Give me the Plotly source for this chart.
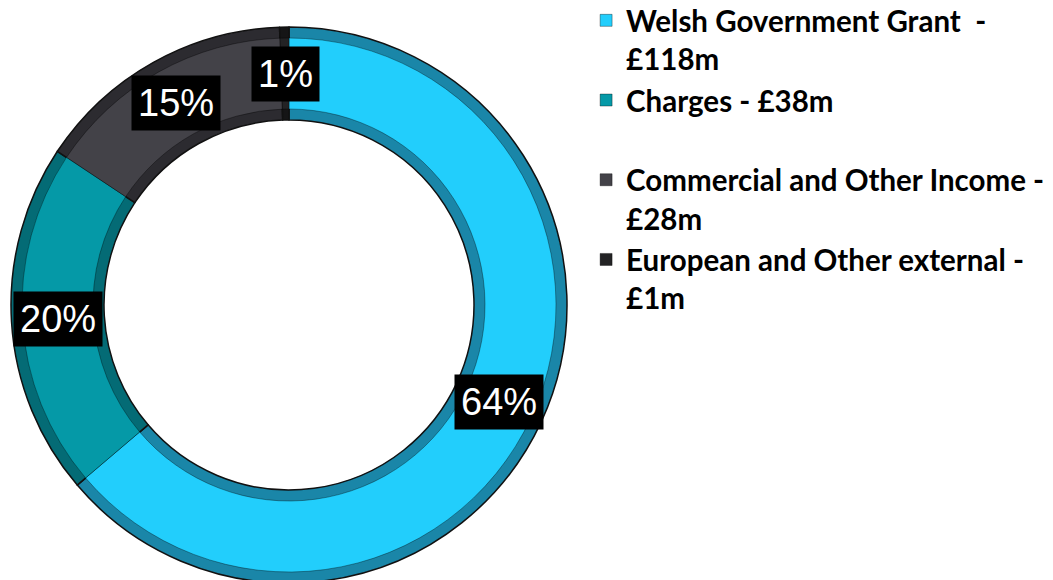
import math
import plotly.graph_objects as go

categories = ["Welsh Government Grant  -<br>£118m", "Charges - £38m<br> ",
              "Commercial and Other Income -<br>£28m", "European and Other external -<br>£1m"]
values = [118, 38, 28, 1]
pct_labels = ["64%", "20%", "15%", "1%"]
colors = ["#22CEFC", "#0599A7", "#434248", "#232325"]
edge_colors = ["#1A86A8", "#046B75", "#2C2B30", "#151516"]

W, H = 1053, 580
OFF = 8                    # page body margin offset
cx, cy = 289 - OFF, 305 - OFF   # pie centre in figure pixels (from top-left)
R = 278                    # outer radius in px
r_in = 185                 # inner radius in px
hole = r_in / R

def dom(radius):
    return dict(x=[(cx - radius) / W, (cx + radius) / W],
                y=[max(0, (H - cy - radius) / H), min(1, (H - cy + radius) / H)])

fig = go.Figure()
# outer bevel layer
fig.add_trace(go.Pie(labels=categories, values=values, sort=False, direction="clockwise",
                     rotation=0, hole=hole, domain=dom(R), showlegend=False,
                     marker=dict(colors=edge_colors, line=dict(color="#111111", width=1.5)),
                     textinfo="none", hoverinfo="skip"))
# main face layer
R2 = R - 11
r2 = r_in + 11
fig.add_trace(go.Pie(labels=categories, values=values, sort=False, direction="clockwise",
                     rotation=0, hole=r2 / R2, domain=dom(R2), showlegend=True,
                     marker=dict(colors=colors, line=dict(color="rgba(0,0,0,0.35)", width=1)),
                     textinfo="none"))

total = sum(values)
cum = 0
r_mid = (R + r_in) / 2
for v, lab in zip(values, pct_labels):
    mid = (cum + v / 2) / total * 2 * math.pi
    cum += v
    px = cx + r_mid * math.sin(mid)
    py = cy - r_mid * math.cos(mid)
    fig.add_annotation(x=px / W, y=1 - py / H, xref="paper", yref="paper",
                       xanchor="center", yanchor="middle",
                       text=lab, showarrow=False, bgcolor="#000000", borderpad=6,
                       font=dict(family="Liberation Sans, Arial", size=38, color="#FFFFFF"))

fig.update_layout(
    width=W, height=H,
    margin=dict(l=0, r=0, t=0, b=0, autoexpand=False),
    paper_bgcolor="white", plot_bgcolor="white",
    legend=dict(x=0.549, y=1.023, xanchor="left", yanchor="top", valign="top",
                font=dict(family="Lato, Carlito, sans-serif", size=29.5, color="#000000", weight="bold"),
                traceorder="normal", itemwidth=30, tracegroupgap=0, maxheight=1000),
)
fig.write_html("out.html")
